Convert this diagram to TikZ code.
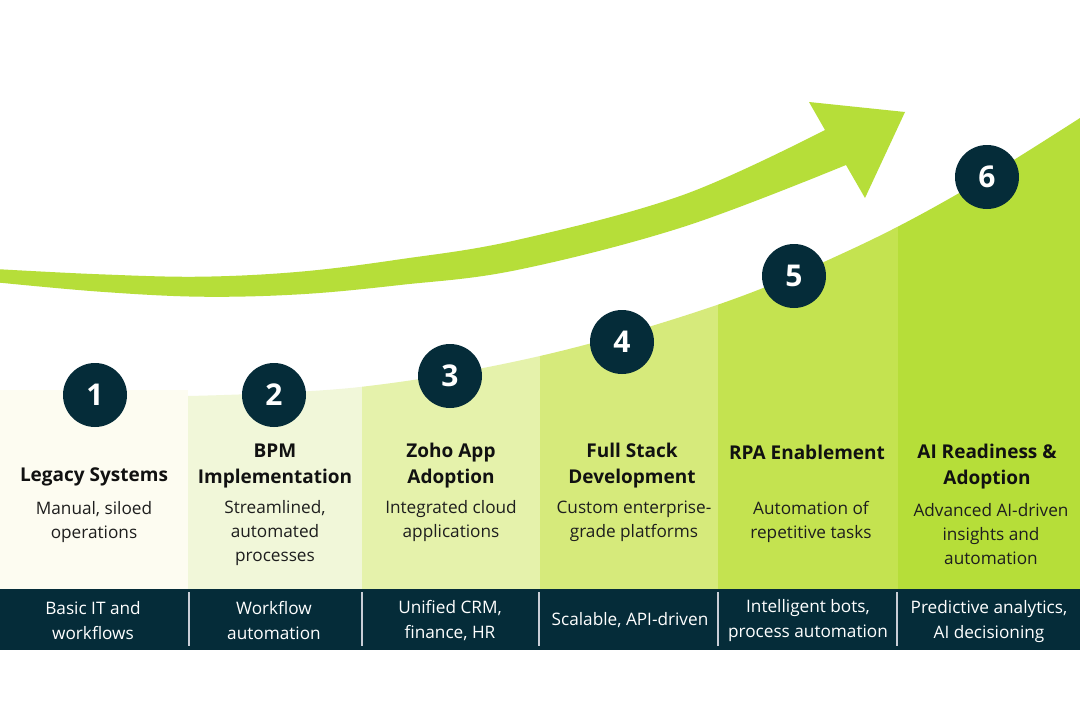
\documentclass[tikz,border=0pt]{standalone}
\usepackage{fontspec}
\setmainfont{Open Sans}
\definecolor{navy}{HTML}{052C39}
\definecolor{arrowg}{HTML}{B6DE39}
\definecolor{colA}{HTML}{FDFCF1}
\definecolor{colB}{HTML}{F1F7D9}
\definecolor{colC}{HTML}{E5F2AB}
\definecolor{colD}{HTML}{D6EA7B}
\definecolor{colE}{HTML}{C4E350}
\definecolor{colF}{HTML}{B6DE39}
\definecolor{titlec}{HTML}{111111}
\definecolor{descc}{HTML}{1E1E1E}
\definecolor{sepc}{HTML}{C9CDD6}
\begin{document}
\begin{tikzpicture}[x=1pt,y=-1pt,
  title/.style={font=\fontsize{19}{26}\selectfont\bfseries, text=titlec, align=center, inner sep=0pt},
  desc/.style={font=\fontsize{17.2}{24}\selectfont, text=descc, align=center, inner sep=0pt},
  bartext/.style={font=\fontsize{17.2}{24.5}\selectfont, text=white, align=center, inner sep=0pt},
  num/.style={circle, fill=navy, minimum size=64pt, inner sep=0pt, text=white, font=\fontsize{30}{30}\selectfont\bfseries},
  sepline/.style={draw=sepc, line width=1.6pt}]
\useasboundingbox (0,0) rectangle (1080,701);
\fill[white] (0,0) rectangle (1080,701);
% column 1
\fill[colA] (0,390) rectangle (188,590);
% hill columns
\begin{scope}
  \clip plot[smooth, tension=0.6] coordinates {(188,396) (360,387) (540,356) (717,305) (850,250) (961,192) (1080,118)} -- (1080,590) -- (188,590) -- cycle;
  \fill[colB] (188,0) rectangle (362,590);
  \fill[colC] (362,0) rectangle (540,590);
  \fill[colD] (540,0) rectangle (718,590);
  \fill[colE] (718,0) rectangle (898,590);
  \fill[colF] (898,0) rectangle (1080,590);
\end{scope}
% growth arrow
\fill[arrowg] plot[smooth, tension=0.6] coordinates {(0,269.3) (100,274.3) (200,276.7) (300,271.7) (400,259.3) (517,240) (683,195) (825,130)}
  -- (809,102) -- (905,112) -- (865,198) -- (846,165)
  -- plot[smooth, tension=0.6] coordinates {(846,165) (683,227) (517,270) (400,285) (300,294.3) (200,296.7) (100,291.7) (0,282.7)} -- cycle;
% bottom bar
\fill[navy] (0,589) rectangle (1080,650);
\coordinate (s1t) at (189,592); \coordinate (s1b) at (189,646);
\coordinate (s2t) at (362,592); \coordinate (s2b) at (362,646);
\coordinate (s3t) at (539,592); \coordinate (s3b) at (539,646);
\coordinate (s4t) at (718,592); \coordinate (s4b) at (718,646);
\coordinate (s5t) at (897,592); \coordinate (s5b) at (897,646);
\draw[sepline] (s1t) -- (s1b);
\draw[sepline] (s2t) -- (s2b);
\draw[sepline] (s3t) -- (s3b);
\draw[sepline] (s4t) -- (s4b);
\draw[sepline] (s5t) -- (s5b);
% number circles
\node[num] (c1) at (95,395) {1};
\node[num] (c2) at (274,395) {2};
\node[num] (c3) at (450,376) {3};
\node[num] (c4) at (622,342) {4};
\node[num] (c5) at (794,276) {5};
\node[num] (c6) at (987,177) {6};
% titles
\node[title] (t1) at (94,477) {Legacy Systems};
\node[title] (t2) at (275,465.5) {BPM\\Implementation};
\node[title] (t3) at (451,465.5) {Zoho App\\Adoption};
\node[title] (t4) at (632,465.5) {Full Stack\\Development};
\node[title] (t5) at (807,452.5) {RPA Enablement};
\node[title] (t6) at (987,466.5) {AI Readiness \&\\Adoption};
% descriptions
\node[desc] (d1) at (94,522.5) {Manual, siloed\\operations};
\node[desc] (d2) at (275,533.5) {Streamlined,\\automated\\processes};
\node[desc] (d3) at (451,521.5) {Integrated cloud\\applications};
\node[desc] (d4) at (634,521.5) {Custom enterprise-\\grade platforms};
\node[desc] (d5) at (811,521.5) {Automation of\\repetitive tasks};
\node[desc] (d6) at (991,534.5) {Advanced AI-driven\\insights and\\automation};
% bar texts
\node[bartext] (b1) at (93,620.5) {Basic IT and\\workflows};
\node[bartext] (b2) at (274,620.5) {Workflow\\automation};
\node[bartext] (b3) at (450,620.5) {Unified CRM,\\finance, HR};
\node[bartext] (b4) at (630,620) {Scalable, API-driven};
\node[bartext] (b5) at (808,620.5) {Intelligent bots,\\process automation};
\node[bartext] (b6) at (989,621.5) {Predictive analytics,\\AI decisioning};
\end{tikzpicture}
\end{document}
